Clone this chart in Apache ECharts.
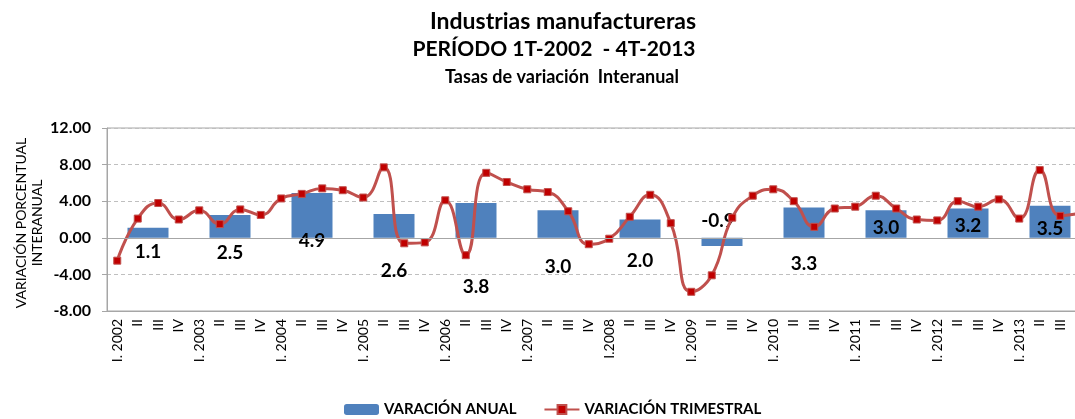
<!DOCTYPE html>
<html>
<head>
<meta charset="utf-8">
<script src="https://cdn.jsdelivr.net/npm/echarts@6/dist/echarts.min.js"></script>
<style>
html,body{margin:0;padding:0;background:#fff;overflow:hidden;}
#chart{width:1100px;height:419px;}
</style>
</head>
<body>
<div id="chart"></div>
<script>
// ---- data ----
var years = ['2002','2003','2004','2005','2006','2007','2008','2009','2010','2011','2012','2013'];
var quarterLabels = [
  'I. 2002','II','III','IV','I. 2003','II','III','IV','I. 2004','II','III','IV',
  'I. 2005','II','III','IV','I. 2006','II','III','IV','I. 2007','II','III','IV',
  'I.2008','II','III','IV','I. 2009','II','III','IV','I. 2010','II','III','IV',
  'I. 2011','II','III','IV','I. 2012','II','III','IV','I. 2013','II','III','IV'
];
var annualValues = [1.1, 2.5, 4.9, 2.6, 3.8, 3.0, 2.0, -0.9, 3.3, 3.0, 3.2, 3.5];
var quarterlyValues = [
  -2.5, 2.1, 3.8, 2.0,
   3.0, 1.5, 3.1, 2.5,
   4.3, 4.8, 5.4, 5.2,
   4.4, 7.7, -0.6, -0.5,
   4.1, -1.9, 7.1, 6.1,
   5.3, 5.0, 2.9, -0.7,
  -0.1, 2.3, 4.7, 1.6,
  -5.9, -4.1, 2.2, 4.6,
   5.3, 4.0, 1.2, 3.2,
   3.4, 4.6, 3.2, 2.0,
   1.9, 4.0, 3.4, 4.2,
   2.1, 7.4, 2.4, 2.7
];
var yTicks = {min: -8, max: 12, interval: 4};

// ---- styling (label offsets in px, not data) ----
var labelDy = [19.5, 26.7, 25.1, 44.6, 66.7, 43, 31.8, -21.4, 41.4, 3.4, 2.6, 7];
var labelDx = [0, 0, 0, 0, 0, 0, 0, -4, 0, 0, 0, 0];
var FONT = 'Lato, "Open Sans", sans-serif';

var barData = annualValues.map(function (v, i) {
  return {
    value: v,
    label: {
      show: true,
      position: 'inside',
      offset: [labelDx[i], labelDy[i]],
      formatter: function (p) { return p.value.toFixed(1); },
      color: '#000',
      fontFamily: FONT,
      fontWeight: 'bold',
      fontSize: 19
    }
  };
});

var chart = echarts.init(document.getElementById('chart'), null, {renderer: 'canvas'});
chart.setOption({
  animation: false,
  backgroundColor: '#fff',
  title: [
    {text: 'Industrias manufactureras', left: 558, top: 5, textAlign: 'center',
     textStyle: {fontFamily: FONT, fontWeight: 'bold', fontSize: 23, color: '#000'}},
    {text: 'PERÍODO 1T-2002  - 4T-2013', left: 549, top: 34, textAlign: 'center',
     textStyle: {fontFamily: FONT, fontWeight: 'bold', fontSize: 21, color: '#000'}},
    {text: 'Tasas de variación  Interanual', left: 557, top: 63, textAlign: 'center',
     textStyle: {fontFamily: FONT, fontWeight: 'bold', fontSize: 18, color: '#000'}}
  ],
  graphic: [{
    type: 'text', x: 29, y: 223, rotation: Math.PI / 2,
    style: {
      text: 'VARIACIÓN PORCENTUAL\nINTERANUAL', align: 'center', verticalAlign: 'middle',
      font: '14px ' + FONT, fill: '#000', lineHeight: 16
    }
  }],
  legend: {
    top: 397, left: 339,
    itemWidth: 35, itemHeight: 11, itemGap: 27,
    textStyle: {fontFamily: FONT, fontWeight: 'bold', fontSize: 15, color: '#000'},
    data: ['VARACIÓN ANUAL', 'VARIACIÓN TRIMESTRAL']
  },
  grid: {
    left: 107, top: 128, right: 9, bottom: 108,
    show: true, borderColor: '#A6A6A6', borderWidth: 1, backgroundColor: 'transparent',
    containLabel: false
  },
  xAxis: [
    {
      type: 'category', data: quarterLabels, boundaryGap: true,
      axisLine: {onZero: false, lineStyle: {color: '#A6A6A6'}},
      axisTick: {show: false},
      axisLabel: {rotate: 90, interval: 0, margin: 8, fontFamily: FONT, fontSize: 14, color: '#000'}
    },
    {
      type: 'category', data: years, position: 'bottom', show: false, boundaryGap: true
    }
  ],
  yAxis: {
    type: 'value', min: yTicks.min, max: yTicks.max, interval: yTicks.interval,
    axisLine: {show: true, lineStyle: {color: '#A6A6A6'}},
    axisTick: {show: true, inside: false, length: 5, lineStyle: {color: '#A6A6A6'}},
    axisLabel: {formatter: function (v) { return v.toFixed(2); }, margin: 16,
                fontFamily: FONT, fontWeight: 'bold', fontSize: 16, color: '#000'},
    splitLine: {show: true, lineStyle: {type: [4, 3], color: '#BFBFBF'}}
  },
  series: [
    {
      name: 'VARACIÓN ANUAL', type: 'bar', xAxisIndex: 1, yAxisIndex: 0,
      data: barData, barWidth: '50%',
      itemStyle: {color: '#4F81BD'},
      z: 2,
      markLine: {
        silent: true, symbol: 'none', label: {show: false},
        lineStyle: {type: 'solid', color: '#A6A6A6', width: 1},
        data: [{yAxis: 0}]
      }
    },
    {
      name: 'VARIACIÓN TRIMESTRAL', type: 'line', xAxisIndex: 0, yAxisIndex: 0,
      data: quarterlyValues, smooth: 0.5,
      symbol: 'rect', symbolSize: 7,
      lineStyle: {color: '#C0504D', width: 3},
      itemStyle: {color: '#C00000', borderColor: '#C0504D', borderWidth: 1},
      z: 3
    }
  ]
});
</script>
</body>
</html>
